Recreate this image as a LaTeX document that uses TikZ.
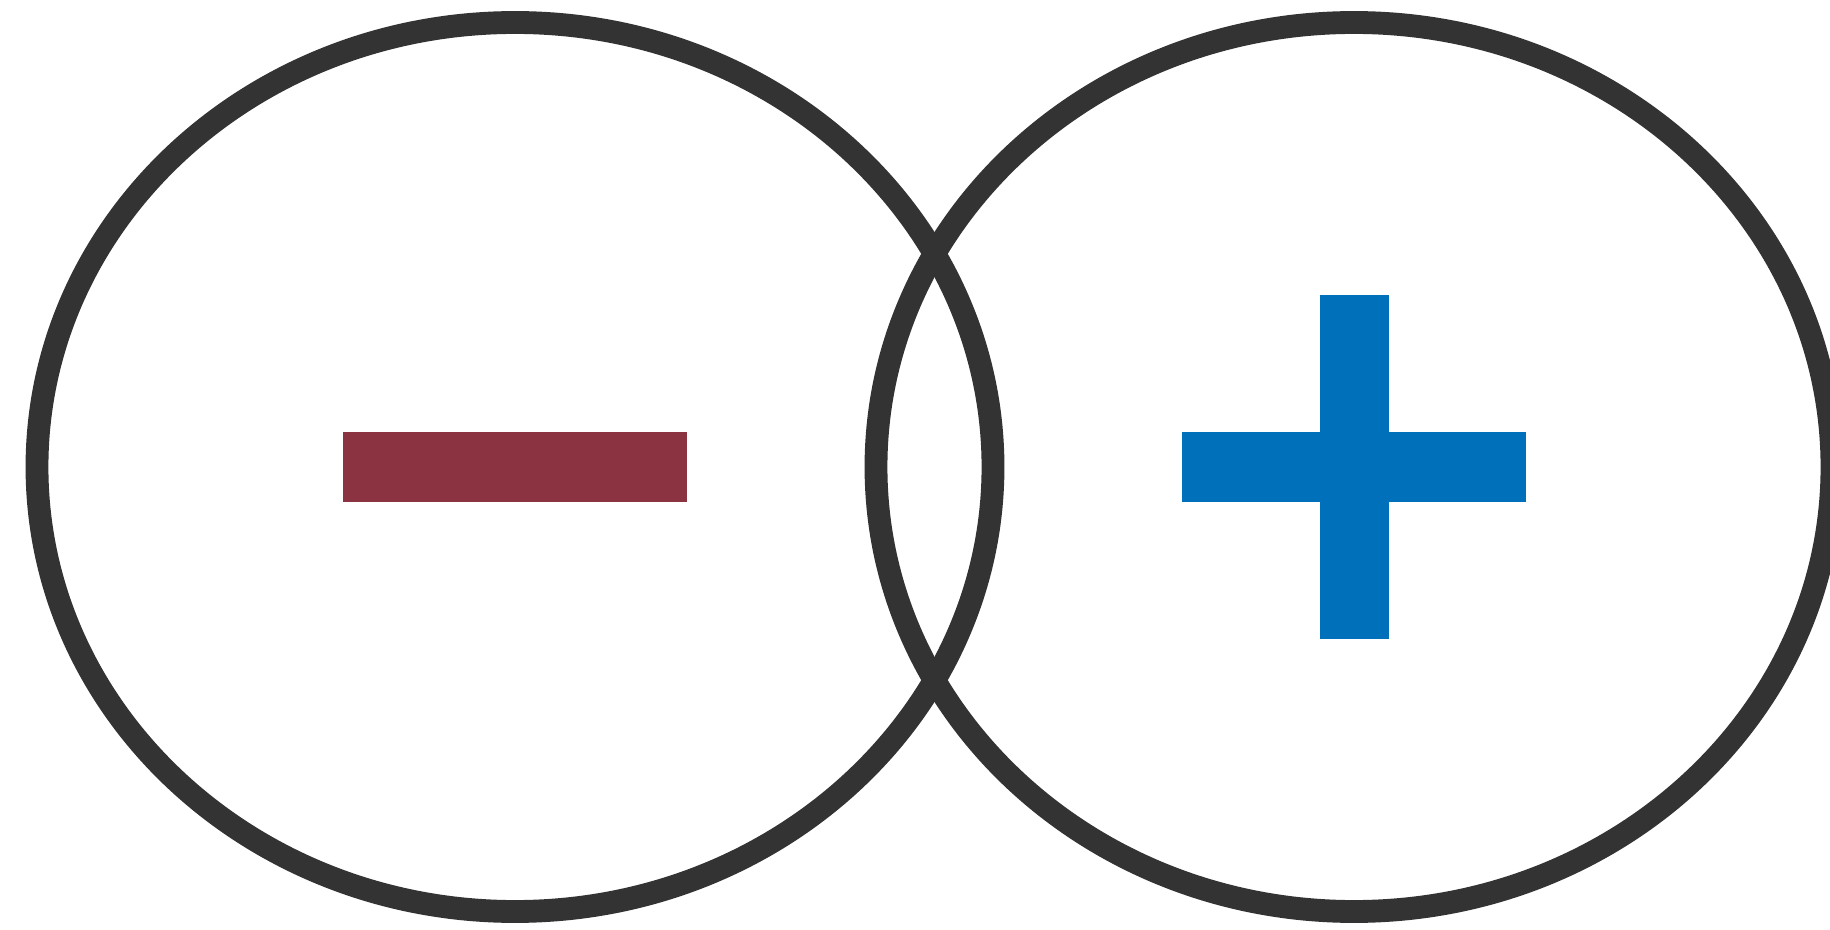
\documentclass[tikz,border=0pt]{standalone}
\usepackage{xcolor}
\usepackage{tikz}
\usetikzlibrary{shapes.geometric}
\definecolor{ring}{HTML}{333333}
\definecolor{wine}{HTML}{8B3341}
\definecolor{sky}{HTML}{0070BB}

\begin{document}
\begin{tikzpicture}[
  oval/.style={ellipse, draw=ring, line width=6.5pt, inner sep=0pt, minimum width=9.56cm, minimum height=8.89cm},
  bar/.style={inner sep=0pt, minimum width=3.44cm, minimum height=0.69cm}]
\useasboundingbox (0,0) rectangle (18.3,9.29);
\node[oval] (neg) at (5.15,4.62) {};
\node[oval] (pos) at (13.54,4.62) {};
\node[bar, fill=wine] (minus) at (neg.center) {};
\node[bar, fill=sky] (plush) at (pos.center) {};
\node[bar, fill=sky, rotate=90] (plusv) at (pos.center) {};
\end{tikzpicture}
\end{document}
